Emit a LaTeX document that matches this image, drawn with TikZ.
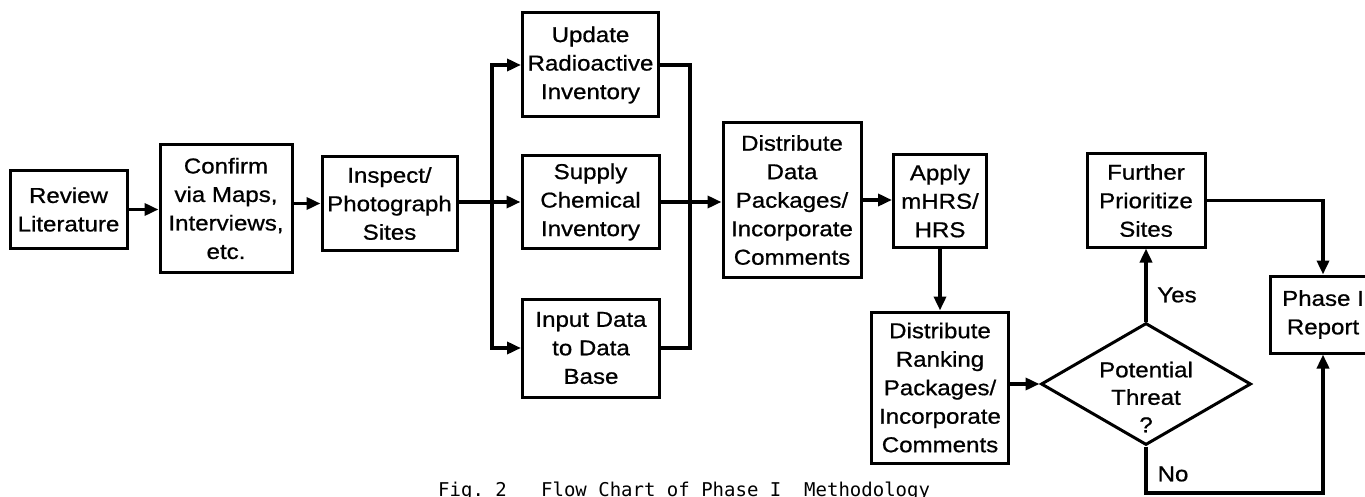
\documentclass[tikz,border=0pt]{standalone}
\usepackage{fontspec}
\setmainfont[FakeStretch=1.12,FakeBold=0.8]{Liberation Sans}
\newfontfamily\capfont{DejaVu Sans Mono}
\usetikzlibrary{shapes.geometric,arrows.meta}
\begin{document}
\begin{tikzpicture}[x=1pt,y=-1pt,
  box/.style={draw,line width=3pt,align=center,inner sep=0pt,font=\fontsize{21.5}{28.5}\selectfont},
  conn/.style={line width=3.5pt,line join=miter},
  arr/.style={conn,-{Triangle[length=14pt,width=12pt]}},
  lab/.style={font=\fontsize{21.5}{28.5}\selectfont,inner sep=0pt}]
\useasboundingbox (0,0) rectangle (1365,497);
\fill[white] (0,0) rectangle (1365,497);
\clip (0,0) rectangle (1365,497);
% boxes
\node[box,minimum width=117,minimum height=77] (rev) at (68.5,209.5) {Review\\Literature};
\node[box,minimum width=132,minimum height=127] (conf) at (226,208.5) {Confirm\\via Maps,\\Interviews,\\etc.};
\node[box,minimum width=135,minimum height=93] (insp) at (389.5,203.5) {Inspect/\\Photograph\\Sites};
\node[box,minimum width=136,minimum height=104] (upd) at (590.5,65) {Update\\Radioactive\\Inventory};
\node[box,minimum width=137,minimum height=92] (sup) at (590.5,202) {Supply\\Chemical\\Inventory};
\node[box,minimum width=137,minimum height=98] (inp) at (591,348) {Input Data\\to Data\\Base};
\node[box,minimum width=138,minimum height=154] (dist) at (792,200) {Distribute\\Data\\Packages/\\Incorporate\\Comments};
\node[box,minimum width=93,minimum height=92] (app) at (940,201) {Apply\\mHRS/\\HRS};
\node[box,minimum width=137,minimum height=151] (rank) at (940,387.5) {Distribute\\Ranking\\Packages/\\Incorporate\\Comments};
\node[draw,diamond,line width=3pt,minimum width=210,minimum height=122,inner sep=0pt] (dia) at (1146,384) {};
\node[lab,align=center,font=\fontsize{21.5}{27.5}\selectfont] (diat) at (1146,397) {Potential\\Threat\\?};
\node[box,minimum width=118,minimum height=93] (fur) at (1146,200.5) {Further\\Prioritize\\Sites};
\node[box,minimum width=106,minimum height=77] (rep) at (1323,314.5) {Phase I\\Report};
% coordinates
\coordinate (sx) at (492,202);
\coordinate (mx) at (690,202);
\coordinate (nb) at (1146,493);
% connectors
\draw[arr] (rev.east) -- (rev.east -| conf.west);
\draw[arr] (conf.east |- insp.east) -- (insp.west);
\draw[conn] (sx -| insp.east) -- (sx);
\draw[arr] (sx) |- (upd.west);
\draw[arr] (sx) |- (inp.west);
\draw[arr] (sx) -- (sup.west);
\draw[conn] (upd.east) -| (mx) |- (inp.east);
\draw[arr] (sup.east) -- (sup.east -| dist.west);
\draw[arr] (dist.east) -- (dist.east -| app.west);
\draw[arr] (app.south) -- (app.south |- rank.north);
\draw[arr] (rank.east |- dia.west) -- (dia.west);
\draw[arr] (dia.north) -- (dia.north |- fur.south);
\draw[arr] (fur.east) -| (rep.north);
\draw[arr] (dia.south) -- (nb) -| (rep.south);
% labels
\node[lab] (yes) at (1177,295) {Yes};
\node[lab] (no) at (1173,474) {No};
% caption
\node[anchor=base west,inner sep=0pt,font=\capfont\fontsize{19}{19}\selectfont] (cap) at (438,496) {\frenchspacing Fig.\ 2\ \ \ Flow Chart of Phase I\ \ Methodology};
\end{tikzpicture}
\end{document}
